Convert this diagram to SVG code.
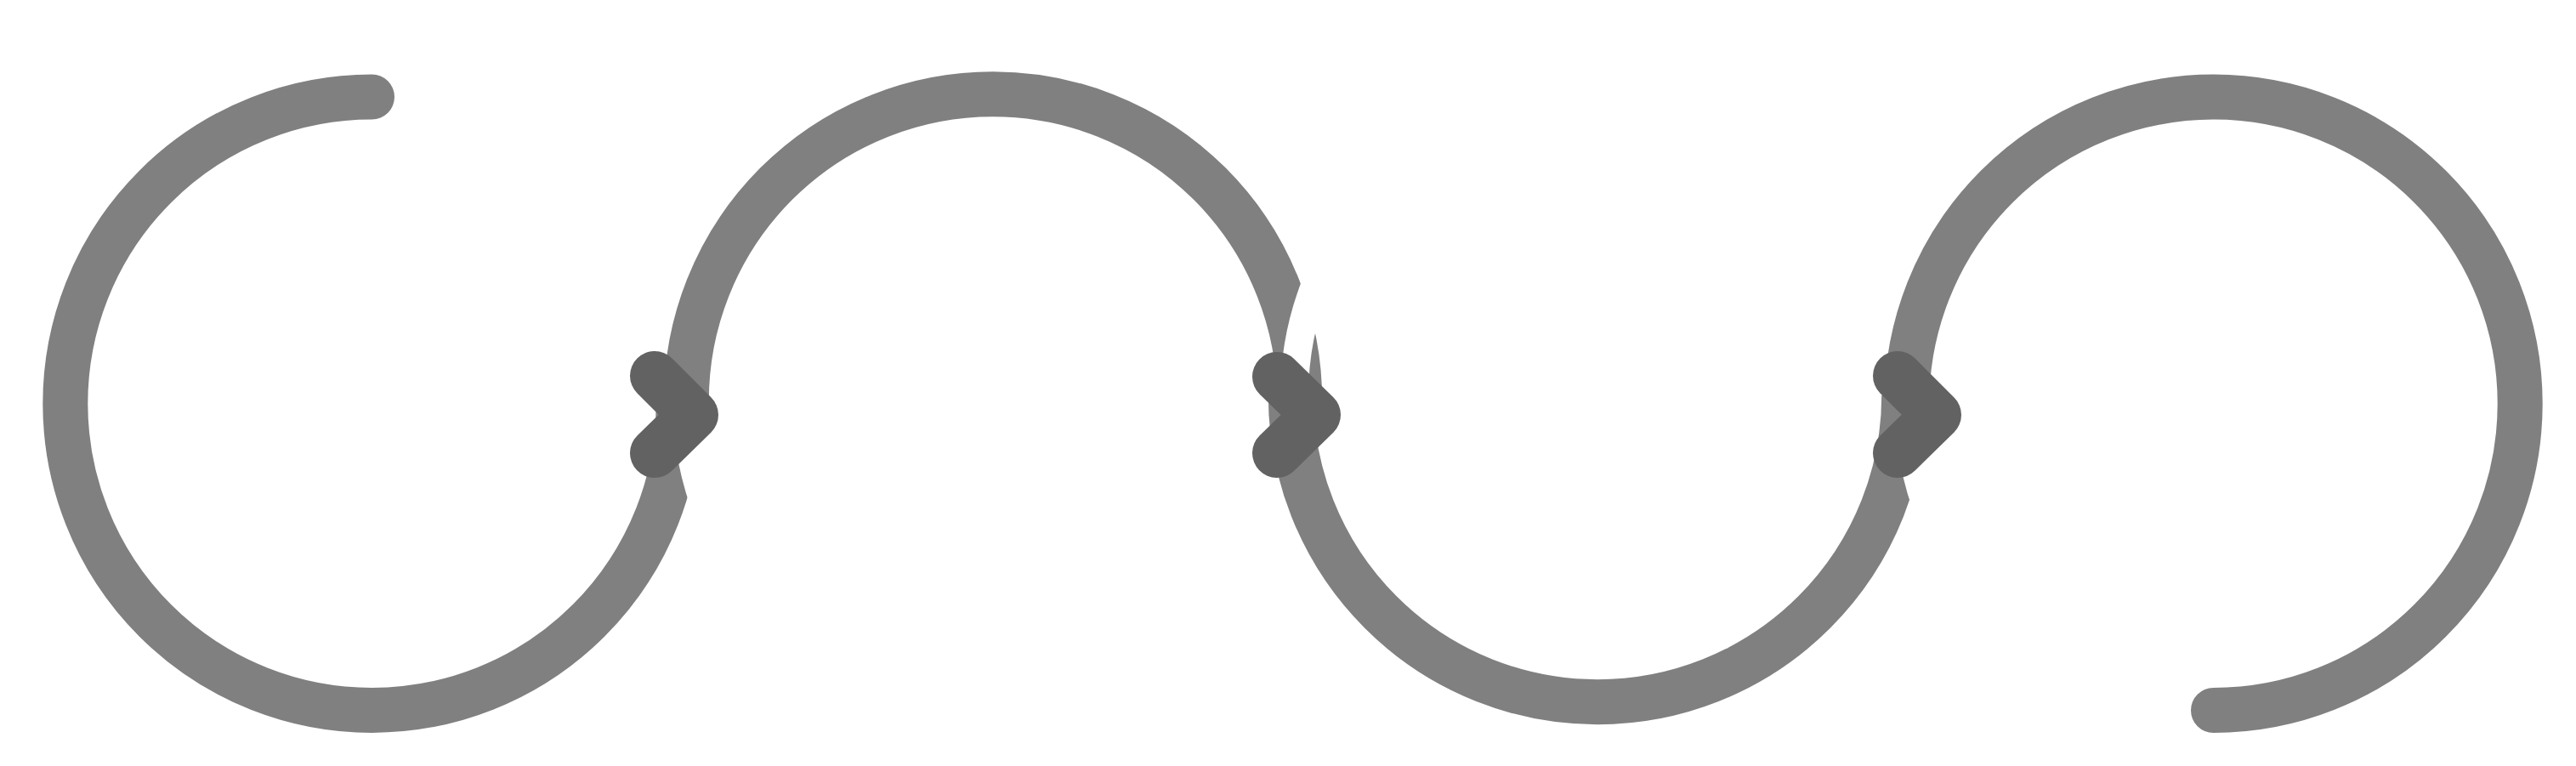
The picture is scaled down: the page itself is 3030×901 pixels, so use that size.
<svg xmlns="http://www.w3.org/2000/svg" width="3030" height="901" viewBox="0 0 3030 901">
  <style>
    .ring { fill: none; stroke: #808080; stroke-width: 53; stroke-linecap: butt; }
    .ring.end { stroke-linecap: round; }
    .gap { fill: none; stroke: #ffffff; stroke-linecap: butt; }
    .chev { fill: none; stroke: #626262; stroke-width: 58; stroke-linecap: round; stroke-linejoin: round; }
  </style>
  <rect x="0" y="0" width="3030" height="901" fill="#ffffff"/>
  <g id="loop-1">
    <path class="ring end" d="M437.5,114 A360.7,360.7 0 0 0 76.8,474.7 A360.7,360.7 0 0 0 437.5,835.4 A360.7,360.7 0 0 0 798.2,474.7"/>
  </g>
  <g id="loop-2">
    <path class="gap" stroke-width="34" d="M809.4,502.8 A360,360 0 0 0 936.6,747.2"/>
    <path class="ring" d="M807.3,471.4 A360.7,360.7 0 0 1 1168,110.7 A360.7,360.7 0 0 1 1528.7,471.4"/>
  </g>
  <g id="loop-3">
    <path class="gap" stroke-width="33" d="M1522.5,465 A356.5,356.5 0 0 1 1626.9,212.9"/>
    <path class="ring" d="M1518.3,465 A360.7,360.7 0 0 0 1879,825.7 A360.7,360.7 0 0 0 2239.7,465"/>
  </g>
  <g id="loop-4">
    <path class="gap" stroke-width="34" d="M2246.9,506 A358,358 0 0 0 2373.4,749"/>
    <path class="ring end" d="M2242.8,474.8 A360.7,360.7 0 0 1 2603.5,114.1 A360.7,360.7 0 0 1 2964.2,474.8 A360.7,360.7 0 0 1 2603.5,835.5"/>
  </g>
  <g id="connectors">
    <path class="chev" d="M770,442 L816,488 L770,533"/>
    <path class="chev" d="M1502,443 L1548,488 L1502,533"/>
    <path class="chev" d="M2232,442 L2278,488 L2232,533"/>
  </g>
</svg>
